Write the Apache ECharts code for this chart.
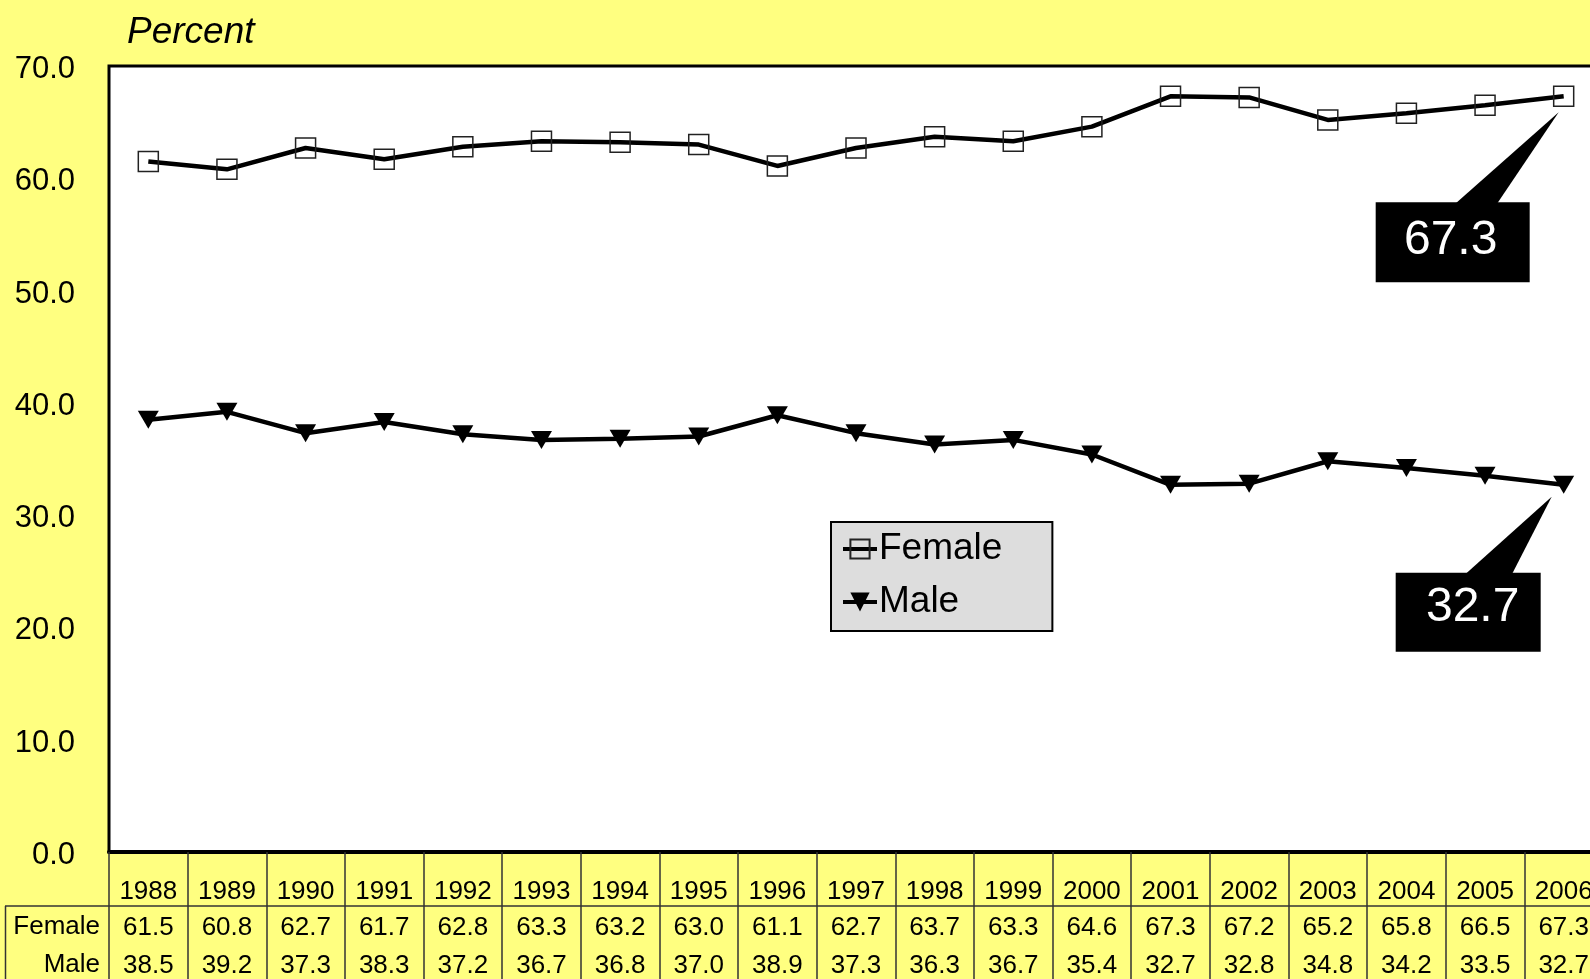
<!DOCTYPE html>
<html>
<head>
<meta charset="utf-8">
<script src="https://cdn.jsdelivr.net/npm/echarts@6/dist/echarts.min.js"></script>
<style>
  html, body { margin: 0; padding: 0; background: #ffff80; overflow: hidden; }
  #chart { width: 1612px; height: 979px; }
</style>
</head>
<body>
<div id="chart"></div>
<script>
const years = ['1988', '1989', '1990', '1991', '1992', '1993', '1994', '1995', '1996', '1997',
               '1998', '1999', '2000', '2001', '2002', '2003', '2004', '2005', '2006'];
const female = [61.5, 60.8, 62.7, 61.7, 62.8, 63.3, 63.2, 63.0, 61.1, 62.7,
                63.7, 63.3, 64.6, 67.3, 67.2, 65.2, 65.8, 66.5, 67.3];
const male = [38.5, 39.2, 37.3, 38.3, 37.2, 36.7, 36.8, 37.0, 38.9, 37.3,
              36.3, 36.7, 35.4, 32.7, 32.8, 34.8, 34.2, 33.5, 32.7];
const yTicks = [0, 10, 20, 30, 40, 50, 60, 70];

const FONT = '"Liberation Sans", Arial, sans-serif';

window.addEventListener('load', function () {
    const chartDom = document.getElementById('chart');
    const myChart = echarts.init(chartDom);

    const option = {
        backgroundColor: '#ffff80',
        animation: false,
        title: {
            text: 'Percent',
            left: 122,
            top: 9,
            textStyle: { fontFamily: FONT, fontSize: 37, fontStyle: 'italic', fontWeight: 'normal', color: '#000' }
        },
        legend: {
            orient: 'vertical',
            left: 831,
            top: 522,
            data: ['Female', 'Male'],
            backgroundColor: '#dddddd',
            borderColor: '#000',
            borderWidth: 2,
            borderRadius: 0,
            padding: [7, 50, 9, 10],
            itemWidth: 34,
            itemHeight: 24,
            itemGap: 13,
            lineStyle: { color: '#000', width: 4 },
            textStyle: { fontFamily: FONT, fontSize: 37, color: '#000', lineHeight: 40, padding: [0, 0, 0, -3] }
        },
        grid: {
            left: 109,
            top: 66,
            right: 9,
            bottom: 127,
            show: true,
            backgroundColor: '#fff',
            borderColor: '#000',
            borderWidth: 3
        },
        xAxis: {
            type: 'category',
            data: years,
            boundaryGap: true,
            axisLine: { show: true, lineStyle: { color: '#000', width: 4 } },
            axisTick: { show: true, interval: 0, inside: false, length: 130, lineStyle: { color: '#333', width: 1.5 } },
            axisLabel: {
                interval: 0,
                margin: 22,
                formatter: function (value, idx) {
                    return '{y|' + value + '}\n{v|' + female[idx].toFixed(1) + '}\n{v|' + male[idx].toFixed(1) + '}';
                },
                rich: {
                    y: { fontFamily: FONT, fontSize: 26, color: '#000', lineHeight: 35 },
                    v: { fontFamily: FONT, fontSize: 26, color: '#000', lineHeight: 38 }
                }
            },
            splitLine: { show: false }
        },
        yAxis: {
            type: 'value',
            min: yTicks[0],
            max: yTicks[yTicks.length - 1],
            interval: 10,
            axisLine: { show: false },
            axisTick: { show: false },
            splitLine: { show: false },
            axisLabel: {
                margin: 34,
                formatter: function (v) { return '{t|' + v.toFixed(1) + '}'; },
                rich: {
                    t: { fontFamily: FONT, fontSize: 31, color: '#000', padding: [7, 0, 0, 0] }
                }
            }
        },
        series: [
            {
                name: 'Female',
                type: 'line',
                data: female,
                symbol: 'rect',
                symbolSize: 20,
                lineStyle: { color: '#000', width: 4.5 },
                itemStyle: { color: 'rgba(255,255,255,0)', borderColor: '#222', borderWidth: 1.5 },
                z: 3
            },
            {
                name: 'Male',
                type: 'line',
                data: male,
                symbol: 'triangle',
                symbolRotate: 180,
                symbolSize: [21, 18],
                lineStyle: { color: '#000', width: 4.5 },
                itemStyle: { color: '#000' },
                z: 3
            }
        ]
    };

    myChart.setOption(option);

    // callouts pointing at the last value of each series
    const last = years.length - 1;
    const pf = myChart.convertToPixel({ seriesIndex: 0 }, [last, female[last]]);
    const pm = myChart.convertToPixel({ seriesIndex: 1 }, [last, male[last]]);

    function callout(p, tip, baseL, baseR, box, textPos, label) {
        return [
            {
                type: 'polygon',
                shape: { points: [[p[0] + tip[0], p[1] + tip[1]], [p[0] + baseL, p[1] + box[1] + 2], [p[0] + baseR, p[1] + box[1] + 2]] },
                style: { fill: '#000' },
                z: 10
            },
            {
                type: 'rect',
                shape: { x: p[0] + box[0], y: p[1] + box[1], width: box[2], height: box[3] },
                style: { fill: '#000' },
                z: 10
            },
            {
                type: 'text',
                x: p[0] + textPos[0],
                y: p[1] + textPos[1],
                style: { text: label, fill: '#fff', fontFamily: FONT, fontSize: 48, align: 'center', verticalAlign: 'middle' },
                z: 11
            }
        ];
    }

    const graphics = []
        .concat(callout(pf, [-5, 16], -109, -67, [-188, 106, 154, 80], [-113, 144], female[last].toFixed(1)))
        .concat(callout(pm, [-12, 12], -99, -52, [-168, 88, 145, 79], [-91, 123], male[last].toFixed(1)))
        .concat([
            // data table frame
            { type: 'line', shape: { x1: 5, y1: 906, x2: 1612, y2: 906 }, style: { stroke: '#333', lineWidth: 1.5 }, z: 5 },
            { type: 'line', shape: { x1: 5.5, y1: 906, x2: 5.5, y2: 979 }, style: { stroke: '#333', lineWidth: 1.5 }, z: 5 },
            { type: 'text', x: 100, y: 927, style: { text: 'Female', fill: '#000', fontFamily: FONT, fontSize: 26, align: 'right', verticalAlign: 'middle' }, z: 5 },
            { type: 'text', x: 100, y: 965, style: { text: 'Male', fill: '#000', fontFamily: FONT, fontSize: 26, align: 'right', verticalAlign: 'middle' }, z: 5 }
        ]);

    myChart.setOption({ graphic: graphics });
});
</script>
</body>
</html>
